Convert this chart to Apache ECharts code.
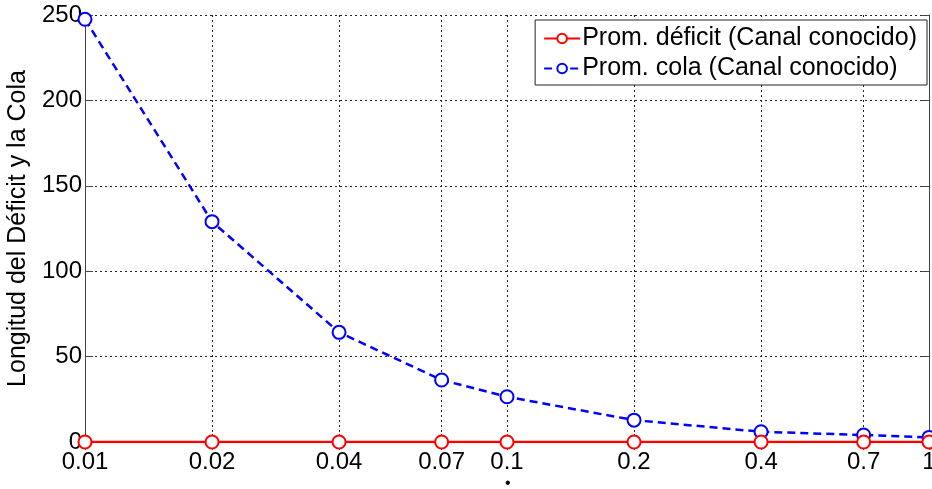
<!DOCTYPE html>
<html>
<head>
<meta charset="utf-8">
<script src="https://cdn.jsdelivr.net/npm/echarts@6/dist/echarts.min.js"></script>
<style>
html, body { margin: 0; padding: 0; background: #fff; }
#chart { width: 932px; height: 489px; }
</style>
</head>
<body>
<div id="chart"></div>
<script>
// valores del eje x (escala log)
var xVals = [0.01, 0.02, 0.04, 0.07, 0.1, 0.2, 0.4, 0.7, 1];
var xLabels = ['0.01', '0.02', '0.04', '0.07', '0.1', '0.2', '0.4', '0.7', '1'];
// promedio deficit y cola
var deficit = [0, 0, 0, 0, 0, 0, 0, 0, 0];
var cola = [247.5, 129, 64.2, 36.3, 26.5, 12.8, 6.0, 4.1, 2.7];

var fuente = 'Liberation Sans, Arial, sans-serif';

function pares(ys) {
	var out = [];
	for (var i = 0; i < xVals.length; i++) {
		out.push([xVals[i], ys[i]]);
	}
	return out;
}

function etiqueta(v) {
	for (var i = 0; i < xVals.length; i++) {
		if (Math.abs(xVals[i] - v) < 1e-9) return xLabels[i];
	}
	return '';
}

var option = {
	animation : false,
	backgroundColor : '#fff',
	grid : { left : 85, right : 3, top : 15, bottom : 47, outerBoundsMode : 'none', containLabel : false },
	xAxis : [
		{
			type : 'log',
			logBase : 10,
			min : 0.01,
			max : 1,
			axisLine : { show : true, lineStyle : { color : '#444', width : 1 } },
			axisTick : { show : true, inside : true, length : 8, customValues : xVals, lineStyle : { color : '#444' } },
			axisLabel : {
				customValues : xVals,
				formatter : function(v) { return etiqueta(v); },
				fontSize : 24,
				fontFamily : fuente,
				color : '#000',
				margin : 8,
				showMinLabel : true,
				showMaxLabel : true
			},
			splitLine : { show : true, lineStyle : { color : '#222', type : [2, 3], width : 1 } },
			minorTick : { show : false },
			minorSplitLine : { show : false }
		},
		{
			type : 'log',
			logBase : 10,
			min : 0.01,
			max : 1,
			position : 'top',
			axisLine : { show : true, lineStyle : { color : '#444', width : 1 } },
			axisTick : { show : true, inside : true, length : 8, customValues : xVals, lineStyle : { color : '#444' } },
			axisLabel : { show : false },
			splitLine : { show : false }
		}
	],
	yAxis : [
		{
			type : 'value',
			min : 0,
			max : 250,
			interval : 50,
			name : 'Longitud del Déficit y la Cola',
			nameLocation : 'middle',
			nameRotate : 90,
			nameGap : 52,
			nameTextStyle : { fontSize : 25, fontFamily : fuente, color : '#000' },
			axisLine : { show : true, lineStyle : { color : '#444', width : 1 } },
			axisTick : { show : true, inside : true, length : 8, lineStyle : { color : '#444' } },
			axisLabel : { fontSize : 24, fontFamily : fuente, color : '#000', margin : 3 },
			splitLine : { show : true, lineStyle : { color : '#222', type : [2, 3], width : 1 } }
		},
		{
			type : 'value',
			min : 0,
			max : 250,
			interval : 50,
			position : 'right',
			axisLine : { show : true, lineStyle : { color : '#444', width : 1 } },
			axisTick : { show : true, inside : true, length : 8, lineStyle : { color : '#444' } },
			axisLabel : { show : false },
			splitLine : { show : false }
		}
	],
	legend : {
		orient : 'vertical',
		right : 5,
		top : 20,
		backgroundColor : '#fff',
		borderColor : '#222',
		borderWidth : 1,
		borderRadius : 0,
		padding : [6, 10, 4, 8],
		itemWidth : 36,
		itemHeight : 12,
		itemGap : 5,
		textStyle : { fontSize : 25, fontFamily : fuente, color : '#000', padding : [0, 0, 0, -3] },
		data : ['Prom. déficit (Canal conocido)', 'Prom. cola (Canal conocido)']
	},
	graphic : [
		{ type : 'text', left : 505, top : 476, style : { text : '•', fontSize : 16, fill : '#000' } }
	],
	series : [
		{
			name : 'Prom. cola (Canal conocido)',
			type : 'line',
			data : pares(cola),
			symbol : 'emptyCircle',
			symbolSize : 13,
			lineStyle : { color : '#0000ff', width : 2.5, type : [8, 5] },
			itemStyle : { color : '#0000ff', borderWidth : 2 },
			z : 2
		},
		{
			name : 'Prom. déficit (Canal conocido)',
			type : 'line',
			data : pares(deficit),
			symbol : 'emptyCircle',
			symbolSize : 13,
			lineStyle : { color : '#ff0000', width : 2.5 },
			itemStyle : { color : '#ff0000', borderWidth : 2 },
			z : 3
		}
	]
};

var myChart = echarts.init(document.getElementById('chart'), null, { renderer : 'canvas' });
myChart.setOption(option);
</script>
</body>
</html>
